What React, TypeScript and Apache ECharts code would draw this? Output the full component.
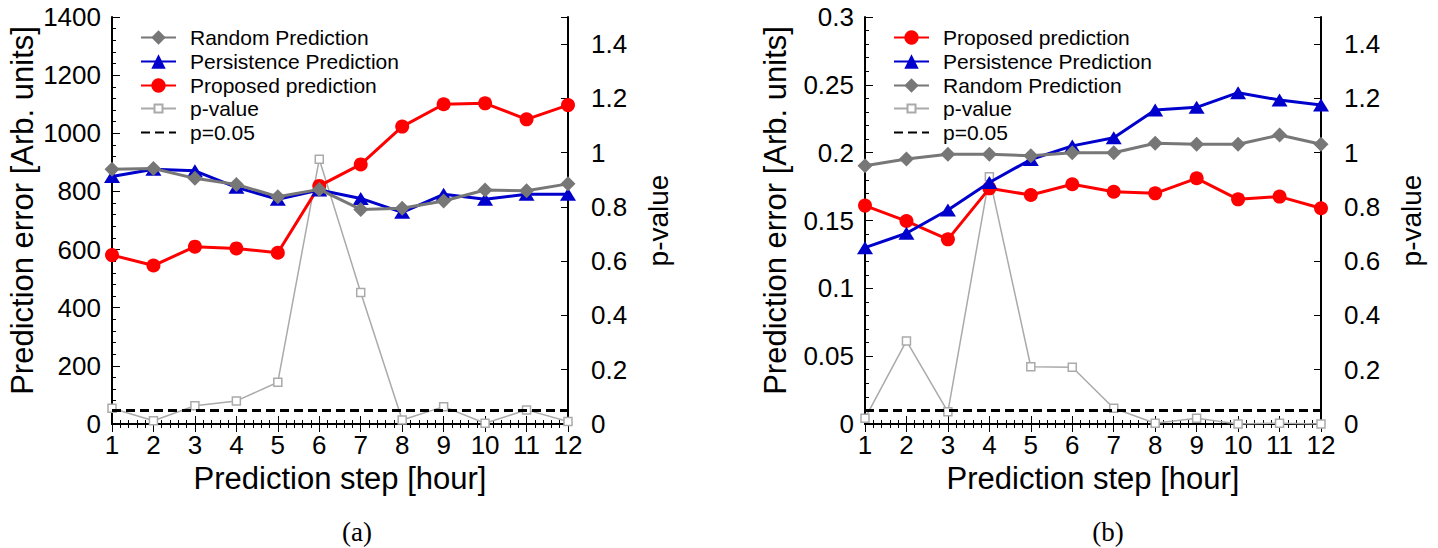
import React, { useEffect, useRef } from "react";
import * as echarts from "echarts";

const steps = [1, 2, 3, 4, 5, 6, 7, 8, 9, 10, 11, 12];
const stepTicks = [1, 12];

// Panel (a)
const aRandom = [876, 879, 845, 824, 782, 807, 738, 742, 767, 805, 802, 826];
const aPersistence = [851, 876, 871, 814, 773, 805, 776, 728, 790, 773, 790, 790];
const aProposed = [581, 545, 610, 604, 589, 819, 893, 1023, 1100, 1103, 1048, 1097];
const aPValue = [0.058, 0.012, 0.067, 0.085, 0.154, 0.976, 0.485, 0.015, 0.064, 0.003, 0.052, 0.009];

// Panel (b)
const bProposed = [0.161, 0.1496, 0.1361, 0.1737, 0.1688, 0.1767, 0.1712, 0.17, 0.1811, 0.1656, 0.1676, 0.159];
const bPersistence = [0.13, 0.1406, 0.1577, 0.178, 0.195, 0.205, 0.211, 0.2314, 0.2334, 0.2442, 0.2388, 0.2351];
const bRandom = [0.1904, 0.1953, 0.1988, 0.1988, 0.1978, 0.2, 0.2, 0.2069, 0.2062, 0.2062, 0.213, 0.2062];
const bPValue = [0.021, 0.306, 0.045, 0.911, 0.211, 0.209, 0.058, 0.003, 0.021, 0, 0.003, 0];

const pThreshold = 0.05;

const legendA = ["Random Prediction", "Persistence Prediction", "Proposed prediction"];
const legendB = ["Proposed prediction", "Persistence Prediction", "Random Prediction"];
const legendP = ["p-value", "p=0.05"];

const FONT = "'Liberation Sans', Arial, Helvetica, sans-serif";
const RED = "#ff0000";
const BLUE = "#0000cc";
const GRAY = "#777777";
const LIGHT = "#aaaaaa";

const pair = (arr: number[]) => steps.map((s, i) => [s, arr[i]]);
const plain = (v: number) => String(+v.toFixed(3));

function axesFor(gi: number, leftMax: number, leftInterval: number) {
  const xBase = {
    gridIndex: gi,
    type: "value",
    min: 1,
    max: 12,
    interval: 1,
    splitLine: { show: false },
    axisLine: { show: true, lineStyle: { color: "#000", width: 2 } },
    axisTick: { show: true, inside: true, length: 8, lineStyle: { color: "#000", width: 1 } },
    minorTick: { show: true, splitNumber: 5, length: 4, lineStyle: { color: "#000", width: 1 } },
  };
  const xAxes = [
    {
      ...xBase,
      position: "bottom",
      name: "Prediction step [hour]",
      nameLocation: "middle",
      nameGap: 35,
      nameTextStyle: { fontFamily: FONT, fontSize: 31, color: "#000" },
      axisLabel: { show: true, fontFamily: FONT, fontSize: 26, color: "#000", margin: 8 },
    },
    {
      ...xBase,
      position: "top",
      axisLabel: { show: false },
    },
  ];
  const yAxes = [
    {
      gridIndex: gi,
      type: "value",
      position: "left",
      min: 0,
      max: leftMax,
      interval: leftInterval,
      name: "Prediction error [Arb. units]",
      nameLocation: "middle",
      nameGap: 74,
      nameRotate: 90,
      nameTextStyle: { fontFamily: FONT, fontSize: 31, color: "#000", padding: [0, 0, 0, 20] },
      splitLine: { show: false },
      axisLine: { show: true, lineStyle: { color: "#000", width: 2 } },
      axisTick: { show: true, inside: true, length: 8, lineStyle: { color: "#000", width: 1 } },
      minorTick: { show: true, splitNumber: 5, length: 4, lineStyle: { color: "#000", width: 1 } },
      axisLabel: { fontFamily: FONT, fontSize: 26, color: "#000", margin: 11, formatter: plain },
    },
    {
      gridIndex: gi,
      type: "value",
      position: "right",
      min: 0,
      max: 1.5,
      interval: 0.2,
      name: "p-value",
      nameLocation: "middle",
      nameGap: 76,
      nameRotate: 90,
      nameTextStyle: { fontFamily: FONT, fontSize: 28, color: "#000" },
      splitLine: { show: false },
      axisLine: { show: true, lineStyle: { color: "#000", width: 2 } },
      axisTick: { show: true, inside: true, length: 7, lineStyle: { color: "#000", width: 1 } },
      minorTick: { show: false },
      axisLabel: {
        fontFamily: FONT,
        fontSize: 26,
        color: "#000",
        margin: 23,
        formatter: (v: number) => (v > 1.45 ? "" : plain(v)),
      },
    },
  ];
  return { xAxes, yAxes };
}

function seriesFor(gi: number, proposed: number[], persistence: number[], random: number[], pvals: number[]) {
  const xi = gi * 2;
  const yl = gi * 2;
  const yr = gi * 2 + 1;
  return [
    {
      name: "p-value",
      type: "line",
      xAxisIndex: xi,
      yAxisIndex: yr,
      data: pair(pvals),
      symbol: "rect",
      symbolSize: 8,
      itemStyle: { color: "#ffffff", borderColor: LIGHT, borderWidth: 1.5 },
      lineStyle: { color: LIGHT, width: 1.5 },
      z: 2,
    },
    {
      name: "p=0.05",
      type: "line",
      xAxisIndex: xi,
      yAxisIndex: yr,
      data: stepTicks.map((s) => [s, pThreshold]),
      symbol: "none",
      itemStyle: { color: "#000" },
      lineStyle: { color: "#000", width: 3, type: [9, 5] },
      z: 3,
    },
    {
      name: "Proposed prediction",
      type: "line",
      xAxisIndex: xi,
      yAxisIndex: yl,
      data: pair(proposed),
      symbol: "circle",
      symbolSize: 14,
      itemStyle: { color: RED },
      lineStyle: { color: RED, width: 3 },
      z: 4,
    },
    {
      name: "Persistence Prediction",
      type: "line",
      xAxisIndex: xi,
      yAxisIndex: yl,
      data: pair(persistence),
      symbol: "triangle",
      symbolSize: [16, 13],
      itemStyle: { color: BLUE },
      lineStyle: { color: BLUE, width: 3 },
      z: 5,
    },
    {
      name: "Random Prediction",
      type: "line",
      xAxisIndex: xi,
      yAxisIndex: yl,
      data: pair(random),
      symbol: "diamond",
      symbolSize: 15,
      itemStyle: { color: GRAY },
      lineStyle: { color: GRAY, width: 3 },
      z: 6,
    },
  ];
}

function legendAt(left: number, top: number, itemHeight: number, data: any[]) {
  return {
    left,
    top,
    orient: "vertical",
    padding: 0,
    itemGap: 3,
    itemWidth: 35,
    itemHeight,
    selectedMode: false,
    data,
    textStyle: { fontFamily: FONT, fontSize: 21, color: "#000", padding: [0, 0, 0, 9] },
  };
}

const pLegendData = legendP.map((n) => (n === "p=0.05" ? { name: n, itemStyle: { opacity: 0 } } : n));

export default function App() {
  const ref = useRef<HTMLDivElement>(null);
  useEffect(() => {
    document.body.style.margin = "0";
    const chart = echarts.init(ref.current!, undefined, { renderer: "svg" });
    const a = axesFor(0, 1400, 200);
    const b = axesFor(1, 0.3, 0.05);
    chart.setOption({
      animation: false,
      backgroundColor: "#ffffff",
      grid: [
        { left: 112, top: 17, width: 456, height: 407 },
        { left: 865, top: 17, width: 456, height: 407 },
      ],
      xAxis: [...a.xAxes, ...b.xAxes],
      yAxis: [...a.yAxes, ...b.yAxes],
      legend: [
        legendAt(140, 27, 18, legendA),
        legendAt(140, 98, 10, pLegendData),
        legendAt(893, 27, 18, legendB),
        legendAt(893, 98, 10, pLegendData),
      ],
      series: [
        ...seriesFor(0, aProposed, aPersistence, aRandom, aPValue),
        ...seriesFor(1, bProposed, bPersistence, bRandom, bPValue),
      ],
      graphic: [
        {
          type: "text",
          x: 357,
          y: 532,
          style: { text: "(a)", fontFamily: "'Liberation Serif', 'DejaVu Serif', serif", fontSize: 27, fill: "#000", align: "center", verticalAlign: "middle" },
        },
        {
          type: "text",
          x: 1108,
          y: 532,
          style: { text: "(b)", fontFamily: "'Liberation Serif', 'DejaVu Serif', serif", fontSize: 27, fill: "#000", align: "center", verticalAlign: "middle" },
        },
      ],
    });
    return () => chart.dispose();
  }, []);
  return <div ref={ref} style={{ position: "absolute", left: 0, top: 0, width: 1438, height: 548 }} />;
}
